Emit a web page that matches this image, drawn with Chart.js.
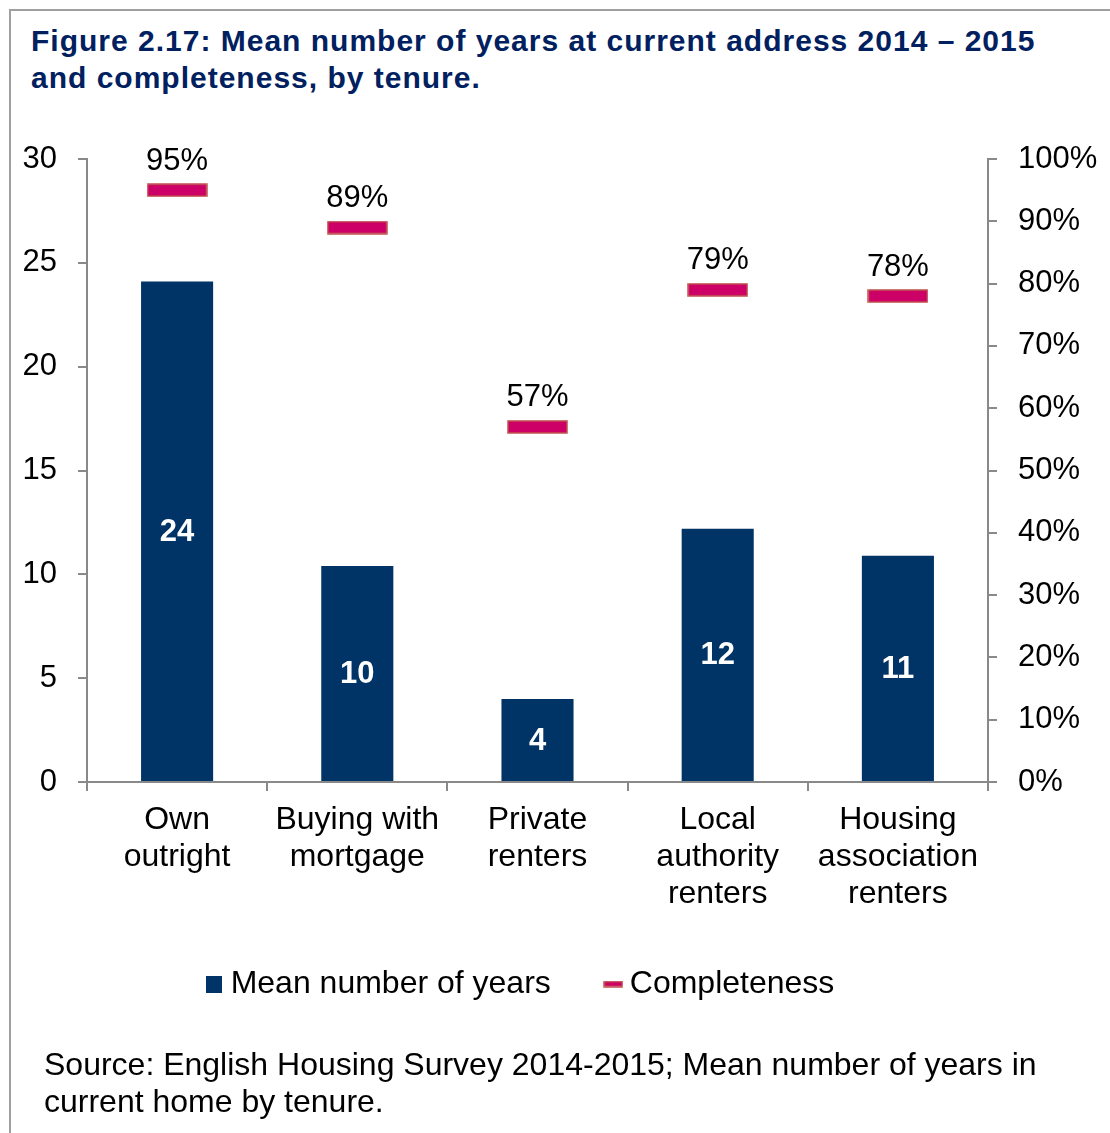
<!DOCTYPE html>
<html>
<head>
<meta charset="utf-8">
<script src="https://cdn.jsdelivr.net/npm/chart.js@4.4.1/dist/chart.umd.min.js"></script>
<style>
  html, body { margin:0; padding:0; background:#fff; }
  body { width:1110px; height:1133px; position:relative; overflow:hidden; font-family:"Liberation Sans", Arial, sans-serif; }
  #frame { position:absolute; left:9px; top:9px; width:1200px; height:1200px; border-left:2px solid #a0a0a0; border-top:2px solid #a0a0a0; }
  #title { position:absolute; left:31px; top:22px; font-weight:bold; font-size:30px; line-height:37px; color:#002060; letter-spacing:1px; white-space:nowrap; }
  #source { position:absolute; left:44px; top:1046px; font-size:32px; line-height:37px; color:#000; white-space:nowrap; }
  #wrap { position:absolute; left:0; top:0; width:1110px; height:1133px; }
</style>
</head>
<body>
<div id="frame"></div>
<div id="title">Figure 2.17: Mean number of years at current address 2014 – 2015<br>and completeness, by tenure.</div>
<div id="wrap"><canvas id="c"></canvas></div>
<div id="source">Source: English Housing Survey 2014-2015; Mean number of years in<br>current home by tenure.</div>
<script>
const categories = [['Own','outright'], ['Buying with','mortgage'], ['Private','renters'], ['Local','authority','renters'], ['Housing','association','renters']];
const meanYears = [24.1, 10.4, 4.0, 12.2, 10.9];
const meanYearsLabels = ['24', '10', '4', '12', '11'];
const completeness = [95, 89, 57, 79, 78];
const leftTicks = [0, 5, 10, 15, 20, 25, 30];
const rightTicks = [0, 10, 20, 30, 40, 50, 60, 70, 80, 90, 100];

const NAVY = '#003366';
const PINK = '#CC0066';
const AXIS = '#898989';

function makeMarker(w, h) {
  const cv = document.createElement('canvas');
  cv.width = w + 2; cv.height = h + 2;
  const g = cv.getContext('2d');
  g.fillStyle = PINK;
  g.fillRect(1, 1, w, h);
  g.strokeStyle = '#C0504D';
  g.lineWidth = 1.5;
  g.strokeRect(1, 1, w, h);
  return cv;
}
const marker = makeMarker(59, 12);
const legendBar = (() => { const cv = document.createElement('canvas'); cv.width = 16; cv.height = 17; const g = cv.getContext('2d'); g.fillStyle = NAVY; g.fillRect(0,0,16,17); return cv; })();
const legendDash = makeMarker(18, 5);

const labelPlugin = {
  id: 'valueLabels',
  afterLayout(chart) {
    const lg = chart.legend;
    if (lg) { lg.left -= 31; lg.right -= 31; lg.top -= 52; lg.bottom -= 52; }
  },
  afterDatasetsDraw(chart) {
    const ctx = chart.ctx;
    ctx.save();
    const m0 = chart.getDatasetMeta(0);
    ctx.font = 'bold 31px "Liberation Sans", Arial, sans-serif';
    ctx.fillStyle = '#ffffff';
    ctx.textAlign = 'center';
    ctx.textBaseline = 'middle';
    m0.data.forEach((bar, i) => {
      ctx.fillText(meanYearsLabels[i], bar.x, (bar.y + bar.base) / 2 + 1);
    });
    const m1 = chart.getDatasetMeta(1);
    ctx.font = '31px "Liberation Sans", Arial, sans-serif';
    ctx.fillStyle = '#000000';
    m1.data.forEach((pt, i) => {
      ctx.fillText(completeness[i] + '%', pt.x, pt.y - 29);
    });
    ctx.restore();
  }
};

const tickFont = { family: '"Liberation Sans", Arial, sans-serif', size: 31 };

new Chart(document.getElementById('c'), {
  type: 'bar',
  data: {
    labels: categories,
    datasets: [
      {
        label: 'Mean number of years',
        data: meanYears,
        yAxisID: 'y',
        backgroundColor: NAVY,
        borderWidth: 0,
        barPercentage: 0.8,
        categoryPercentage: 0.5,
        order: 2
      },
      {
        type: 'line',
        label: 'Completeness',
        data: completeness,
        yAxisID: 'y1',
        showLine: false,
        pointStyle: marker,
        pointRadius: 30,
        pointHoverRadius: 30,
        order: 1
      }
    ]
  },
  options: {
    responsive: true,
    maintainAspectRatio: false,
    animation: false,
    events: [],
    layout: { padding: { top: 159, left: 0, right: 0, bottom: 71 } },
    plugins: {
      tooltip: { enabled: false },
      legend: {
        position: 'bottom',
        labels: {
          usePointStyle: true,
          pointStyleWidth: 1,
          padding: 62,
          color: '#000',
          font: { family: '"Liberation Sans", Arial, sans-serif', size: 32 },
          generateLabels(chart) {
            return chart.data.datasets.map((ds, i) => ({
              text: ds.label,
              pointStyle: i === 0 ? legendBar : legendDash,
              fillStyle: i === 0 ? NAVY : PINK,
              strokeStyle: 'transparent',
              lineWidth: 0,
              hidden: false,
              datasetIndex: i,
              fontColor: '#000'
            }));
          }
        }
      }
    },
    scales: {
      x: {
        grid: { display: true, offset: true, drawOnChartArea: false, drawTicks: true, tickLength: 9, color: AXIS, lineWidth: 2 },
        border: { display: true, color: AXIS, width: 2 },
        ticks: { color: '#000', font: { ...tickFont, size: 32, lineHeight: 1.15 }, padding: 11, maxRotation: 0, autoSkip: false },
        afterFit(s) { s.height = 176; }
      },
      y: {
        position: 'left',
        min: 0, max: 30,
        afterBuildTicks(s) { s.ticks = leftTicks.map(v => ({ value: v })); },
        grid: { display: true, drawOnChartArea: false, drawTicks: true, tickLength: 9, color: AXIS, lineWidth: 2 },
        border: { display: true, color: AXIS, width: 2 },
        ticks: { color: '#000', font: tickFont, padding: 21 },
        afterFit(s) { s.width = 87; }
      },
      y1: {
        position: 'right',
        min: 0, max: 100,
        afterBuildTicks(s) { s.ticks = rightTicks.map(v => ({ value: v })); },
        grid: { display: true, drawOnChartArea: false, drawTicks: true, tickLength: 9, color: AXIS, lineWidth: 2 },
        border: { display: true, color: AXIS, width: 2 },
        ticks: { color: '#000', font: tickFont, padding: 21, callback: v => v + '%' },
        afterFit(s) { s.width = 122; }
      }
    }
  },
  plugins: [labelPlugin]
});
</script>
</body>
</html>
